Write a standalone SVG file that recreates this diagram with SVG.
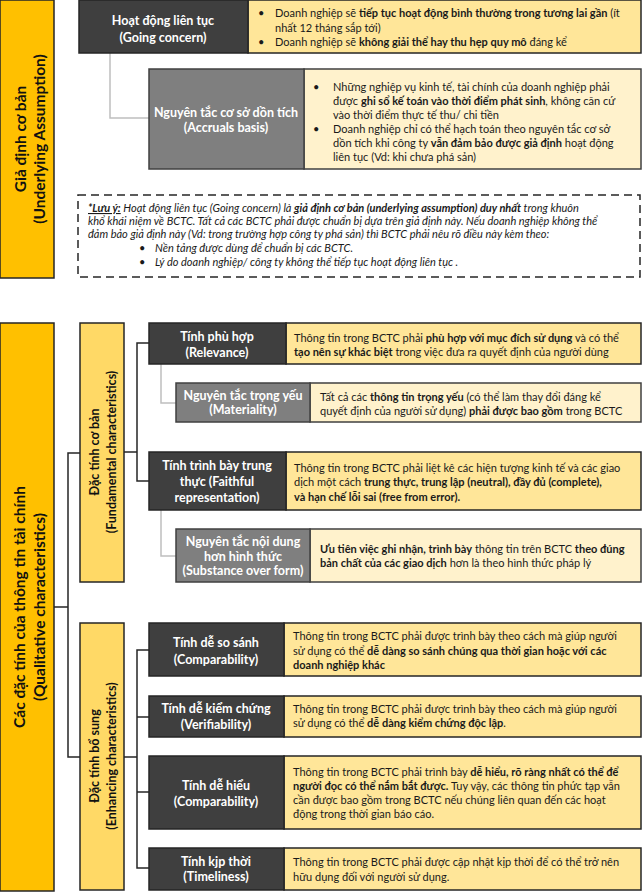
<svg xmlns="http://www.w3.org/2000/svg" width="642" height="894" viewBox="0 0 642 894">
<style>
.main{fill:#FFC000;stroke:#262626;stroke-width:1.5}
.sub{fill:#FFD966;stroke:#262626;stroke-width:1.5}
.dk{fill:#3F3F3F;stroke:#262626;stroke-width:1.5}
.gy{fill:#7F7F7F;stroke:#404040;stroke-width:1.5}
.y1{fill:#FFE699;stroke:#262626;stroke-width:1.5}
.y2{fill:#FFF2CC;stroke:#404040;stroke-width:1.5}
.vt{font-family:Lato,"Open Sans",sans-serif;font-weight:bold;fill:#111111;text-anchor:middle}
.hd{font-family:Lato,"Open Sans",sans-serif;font-weight:bold;fill:#ffffff;font-size:12.5px;text-anchor:middle}
.bd{font-family:Lato,"Open Sans",sans-serif;font-size:11px;fill:#1a1a1a}
.b{font-weight:bold}
.it{font-style:italic}
.cb{fill:none;stroke:#262626;stroke-width:1.5}
.cg{fill:none;stroke:#BFBFBF;stroke-width:1.5}
</style>
<g id="connectors">
<path class="cg" d="M110,53 V118 H149"/>
<path class="cb" d="M54,607 H68 M80,453 H68 V757 H80"/>
<path class="cb" d="M124,452 H137 M149,343 H137 V481 H149"/>
<path class="cb" d="M124,757 H137 M149,650 H137 V868 H149 M137,717 H149 M137,792 H149"/>
<path class="cg" d="M161,364 V403 H176 M161,510 V556 H176"/>
</g>
<g id="underlying">
<rect class="main" x="0" y="0" width="54" height="278"/>
<g transform="translate(0,139) rotate(-90)">
<text class="vt" font-size="15.5" x="0" y="26">Giả định cơ bản</text>
<text class="vt" font-size="15.5" x="0" y="45">(Underlying Assumption)</text>
</g>
</g>
<g id="going-concern">
<rect class="y1" x="248" y="0" width="393" height="53"/>
<rect class="dk" x="79" y="0" width="169" height="53"/>
<text class="hd" x="163" y="25">Hoạt động liên tục</text>
<text class="hd" x="163" y="42">(Going concern)</text>
<text class="bd" x="258" y="17">•</text>
<text class="bd" x="275" y="17">Doanh nghiệp sẽ <tspan class="b">tiếp tục hoạt động bình thường trong tương lai gần</tspan> (ít</text>
<text class="bd" x="275" y="32">nhất 12 tháng sắp tới)</text>
<text class="bd" x="258" y="46">•</text>
<text class="bd" x="275" y="46">Doanh nghiệp sẽ <tspan class="b">không giải thể hay thu hẹp quy mô</tspan> đáng kể</text>
</g>
<g id="accruals">
<rect class="y2" x="304" y="69" width="337" height="100"/>
<rect class="gy" x="149" y="69" width="155" height="100"/>
<text class="hd" x="226" y="117" font-size="11.5">Nguyên tắc cơ sở dồn tích</text>
<text class="hd" x="226" y="132" font-size="11.5">(Accruals basis)</text>
<text class="bd" x="313" y="91">•</text>
<text class="bd" x="333" y="91">Những nghiệp vụ kinh tế, tài chính của doanh nghiệp phải</text>
<text class="bd" x="333" y="105">được <tspan class="b">ghi sổ kế toán vào thời điểm phát sinh</tspan>, không căn cứ</text>
<text class="bd" x="333" y="119">vào thời điểm  thực tế thu/ chi tiền</text>
<text class="bd" x="313" y="133">•</text>
<text class="bd" x="333" y="133">Doanh nghiệp chỉ có thể hạch toán theo nguyên tắc cơ sở</text>
<text class="bd" x="333" y="147">dồn tích khi công ty <tspan class="b">vẫn đảm bảo được giả định</tspan> hoạt động</text>
<text class="bd" x="333" y="161">liên tục (Vd: khi chưa phá sản)</text>
</g>
<g id="note">
<rect x="78" y="195" width="562" height="82" fill="#ffffff" stroke="#262626" stroke-width="1.5" stroke-dasharray="8 5"/>
<text class="bd it" x="88" y="212"><tspan class="b" text-decoration="underline">*Lưu ý:</tspan> Hoạt động liên tục (Going concern) là <tspan class="b">giả định cơ bản (underlying assumption) duy nhất</tspan> trong khuôn</text>
<text class="bd it" x="88" y="225">khổ khái niệm về BCTC. Tất cả các BCTC phải được chuẩn bị dựa trên giả định này. Nếu doanh nghiệp không thể</text>
<text class="bd it" x="88" y="238">đảm bảo giả định này (Vd: trong trường hợp công ty phá sản) thì BCTC phải nêu rõ điều này kèm theo:</text>
<text class="bd" x="139" y="252">•</text>
<text class="bd it" x="155" y="252">Nền tảng được dùng để chuẩn bị các BCTC.</text>
<text class="bd" x="139" y="266">•</text>
<text class="bd it" x="155" y="266">Lý do doanh nghiệp/ công ty không thể tiếp tục hoạt động liên tục .</text>
</g>
<g id="qualitative">
<rect class="main" x="0" y="323" width="54" height="568"/>
<g transform="translate(0,607) rotate(-90)">
<text class="vt" font-size="15.5" x="0" y="25">Các đặc tính của thông tin tài chính</text>
<text class="vt" font-size="15.5" x="0" y="45">(Qualitative characteristics)</text>
</g>
</g>
<g id="fundamental">
<rect class="sub" x="80" y="323" width="44" height="259"/>
<g transform="translate(0,452) rotate(-90)">
<text class="vt" font-size="12.5" x="0" y="99">Đặc tính cơ bản</text>
<text class="vt" font-size="12.5" x="0" y="116">(Fundamental characteristics)</text>
</g>
</g>
<g id="relevance">
<rect class="y1" x="286" y="323" width="355" height="41"/>
<rect class="dk" x="149" y="323" width="137" height="41"/>
<text class="hd" x="217" y="341">Tính phù hợp</text>
<text class="hd" x="217" y="357">(Relevance)</text>
<text class="bd" x="294" y="342">Thông tin trong BCTC phải <tspan class="b">phù hợp với mục đích sử dụng</tspan> và có thể</text>
<text class="bd" x="294" y="356"><tspan class="b">tạo nên sự khác biệt</tspan> trong việc đưa ra quyết định của người dùng</text>
</g>
<g id="materiality">
<rect class="y2" x="310" y="383" width="331" height="39"/>
<rect class="gy" x="176" y="383" width="134" height="39"/>
<text class="hd" x="243" y="400" font-size="11.5">Nguyên tắc trọng yếu</text>
<text class="hd" x="243" y="414" font-size="11.5">(Materiality)</text>
<text class="bd" x="320" y="401">Tất cả các <tspan class="b">thông tin trọng yếu</tspan> (có thể làm thay đổi đáng kể</text>
<text class="bd" x="320" y="415">quyết định của người sử dụng) <tspan class="b">phải được bao gồm</tspan> trong BCTC</text>
</g>
<g id="faithful">
<rect class="y1" x="286" y="452" width="355" height="58"/>
<rect class="dk" x="149" y="452" width="137" height="58"/>
<text class="hd" x="217" y="470">Tính trình bày trung</text>
<text class="hd" x="217" y="486">thực (Faithful</text>
<text class="hd" x="217" y="502">representation)</text>
<text class="bd" x="294" y="472">Thông tin trong BCTC phải liệt kê các hiện tượng kinh tế và các giao</text>
<text class="bd" x="294" y="486">dịch một cách <tspan class="b">trung thực, trung lập (neutral), đầy đủ (complete),</tspan></text>
<text class="bd b" x="294" y="501">và hạn chế lỗi sai (free from error).</text>
</g>
<g id="substance">
<rect class="y2" x="310" y="529" width="331" height="53"/>
<rect class="gy" x="176" y="529" width="134" height="53"/>
<text class="hd" x="243" y="546" font-size="11.5">Nguyên tắc nội dung</text>
<text class="hd" x="243" y="561" font-size="11.5">hơn hình thức</text>
<text class="hd" x="243" y="575" font-size="11.5">(Substance over form)</text>
<text class="bd" x="320" y="553"><tspan class="b">Ưu tiên việc ghi nhận, trình bày</tspan> thông tin trên BCTC <tspan class="b">theo đúng</tspan></text>
<text class="bd" x="320" y="567"><tspan class="b">bản chất của các giao dịch</tspan> hơn là theo hình thức pháp lý</text>
</g>
<g id="enhancing">
<rect class="sub" x="80" y="623" width="44" height="267"/>
<g transform="translate(0,756) rotate(-90)">
<text class="vt" font-size="12.5" x="0" y="99">Đặc tính bổ sung</text>
<text class="vt" font-size="12.5" x="0" y="116">(Enhancing characteristics)</text>
</g>
</g>
<g id="comparability">
<rect class="y1" x="284" y="623" width="357" height="53"/>
<rect class="dk" x="149" y="623" width="135" height="53"/>
<text class="hd" x="216" y="647">Tính dễ so sánh</text>
<text class="hd" x="216" y="664">(Comparability)</text>
<text class="bd" x="293" y="640">Thông tin trong BCTC phải được trình bày theo cách mà giúp người</text>
<text class="bd" x="293" y="655">sử dụng có thể <tspan class="b">dễ dàng so sánh chúng qua thời gian hoặc với các</tspan></text>
<text class="bd b" x="293" y="669">doanh nghiệp khác</text>
</g>
<g id="verifiability">
<rect class="y1" x="284" y="696" width="357" height="41"/>
<rect class="dk" x="149" y="696" width="135" height="41"/>
<text class="hd" x="216" y="713">Tính dễ kiểm chứng</text>
<text class="hd" x="216" y="729">(Verifiability)</text>
<text class="bd" x="293" y="713">Thông tin trong BCTC phải được trình bày theo cách mà giúp người</text>
<text class="bd" x="293" y="727">sử dụng có thể <tspan class="b">dễ dàng kiểm chứng độc lập</tspan>.</text>
</g>
<g id="understandability">
<rect class="y1" x="284" y="756" width="357" height="73"/>
<rect class="dk" x="149" y="756" width="135" height="73"/>
<text class="hd" x="216" y="790">Tính dễ hiểu</text>
<text class="hd" x="216" y="806">(Comparability)</text>
<text class="bd" x="293" y="776">Thông tin trong BCTC phải trình bày <tspan class="b">dễ hiểu, rõ ràng nhất có thể để</tspan></text>
<text class="bd" x="293" y="790"><tspan class="b">người đọc có thể nắm bắt được.</tspan> Tuy vậy, các thông tin phức tạp vẫn</text>
<text class="bd" x="293" y="804">cần được bao gồm trong BCTC nếu chúng liên quan đến các hoạt</text>
<text class="bd" x="293" y="818">động trong thời gian báo cáo.</text>
</g>
<g id="timeliness">
<rect class="y1" x="284" y="848" width="357" height="42"/>
<rect class="dk" x="149" y="848" width="135" height="42"/>
<text class="hd" x="216" y="866">Tính kjp thời</text>
<text class="hd" x="216" y="881">(Timeliness)</text>
<text class="bd" x="293" y="866">Thông tin trong BCTC phải được cập nhật kịp thời để có thể trở nên</text>
<text class="bd" x="293" y="881">hữu dụng đối với người sử dụng.</text>
</g>
</svg>
